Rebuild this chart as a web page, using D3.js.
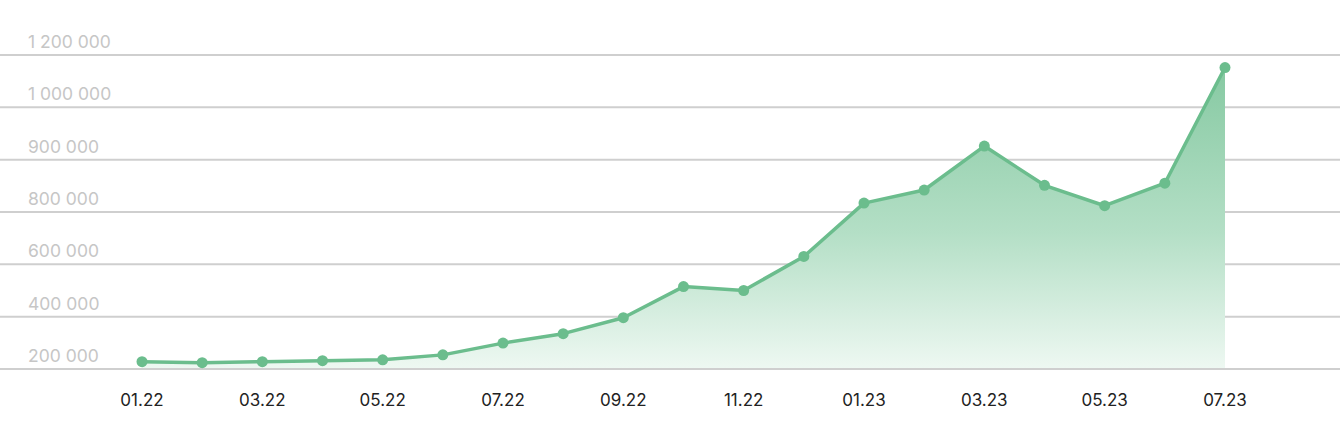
<!DOCTYPE html>
<html><head><meta charset="utf-8">
<script src="https://cdn.jsdelivr.net/npm/d3@7"></script>
<style>
html,body{margin:0;padding:0;background:#fff;}
svg{display:block;}
</style></head>
<body>
<svg id="chart" width="1340" height="429"></svg>
<script>
const months = ["01.22","02.22","03.22","04.22","05.22","06.22","07.22","08.22","09.22","10.22","11.22","12.22","01.23","02.23","03.23","04.23","05.23","06.23","07.23"];
const values = [228000,224000,228000,232000,235000,254000,299000,335000,396000,515000,500000,630000,817000,842000,926000,851000,812000,855000,1152000];
const yTicks = [200000,400000,600000,800000,900000,1000000,1200000];
const yTickLabels = ["200 000","400 000","600 000","800 000","900 000","1 000 000","1 200 000"];
const xLabelMonths = ["01.22","03.22","05.22","07.22","09.22","11.22","01.23","03.23","05.23","07.23"];

const W = 1340, H = 429;
const svg = d3.select("#chart");

const x = d3.scalePoint().domain(months).range([142, 1225]);
const yTop = 55, yBottom = 369;
const step = (yBottom - yTop) / (yTicks.length - 1);
const y = d3.scaleLinear().domain(yTicks).range(yTicks.map((d, i) => yBottom - i * step));

const defs = svg.append("defs");
const grad = defs.append("linearGradient").attr("id", "areaGrad")
  .attr("gradientUnits", "userSpaceOnUse")
  .attr("x1", 0).attr("x2", 0).attr("y1", y(1152000)).attr("y2", yBottom);
grad.append("stop").attr("offset", "0%").attr("stop-color", "#86c9a2");
grad.append("stop").attr("offset", "55%").attr("stop-color", "#b4dfc6");
grad.append("stop").attr("offset", "100%").attr("stop-color", "#eef8f2");

// gridlines
svg.append("g").selectAll("line").data(yTicks).join("line")
  .attr("x1", 0).attr("x2", W)
  .attr("y1", d => y(d)).attr("y2", d => y(d))
  .attr("stroke", "#cfcfcf").attr("stroke-width", 2);

// y labels
svg.append("g").selectAll("text").data(yTicks).join("text")
  .attr("x", 28).attr("y", d => y(d) - 7)
  .attr("font-family", "Inter, 'Noto Sans', sans-serif")
  .attr("font-size", 17.5)
  .attr("fill", "#c6c6c6")
  .text((d, i) => yTickLabels[i]);

const data = months.map((m, i) => ({m, v: values[i]}));

// area
const area = d3.area().x(d => x(d.m)).y0(yBottom - 1).y1(d => y(d.v));
svg.append("path").datum(data).attr("d", area).attr("fill", "url(#areaGrad)");

// line
const line = d3.line().x(d => x(d.m)).y(d => y(d.v));
svg.append("path").datum(data).attr("d", line)
  .attr("fill", "none").attr("stroke", "#6bbd8d").attr("stroke-width", 3.5)
  .attr("stroke-linejoin", "round");

// points
svg.append("g").selectAll("circle").data(data).join("circle")
  .attr("cx", d => x(d.m)).attr("cy", d => y(d.v)).attr("r", 5.5)
  .attr("fill", "#6bbd8d");

// x labels
svg.append("g").selectAll("text").data(xLabelMonths).join("text")
  .attr("x", d => x(d)).attr("y", 406)
  .attr("text-anchor", "middle")
  .attr("font-family", "Inter, 'Noto Sans', sans-serif")
  .attr("font-size", 17)
  .attr("fill", "#222")
  .text(d => d);
</script>
</body></html>
